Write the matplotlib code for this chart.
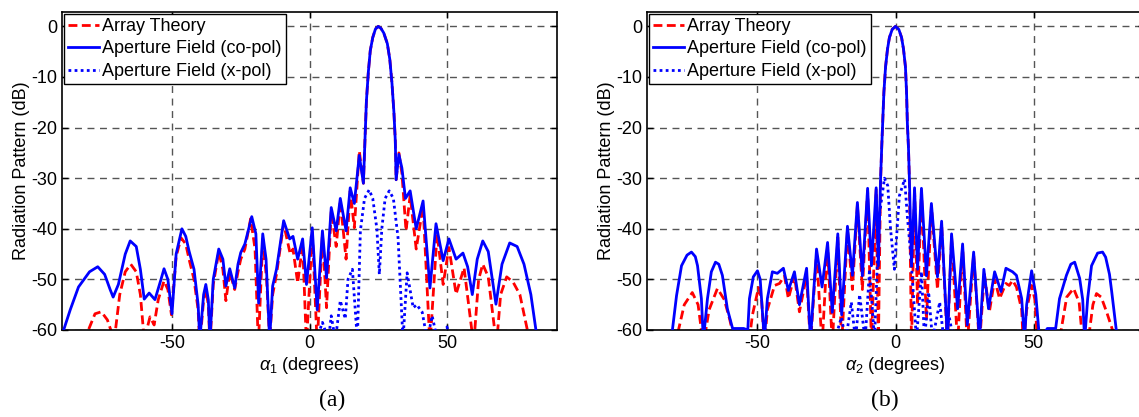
import matplotlib
matplotlib.use("Agg")
import matplotlib.pyplot as plt

plt.rcParams['font.family'] = ['Liberation Sans', 'DejaVu Sans']
plt.rcParams['axes.unicode_minus'] = False
plt.rcParams['mathtext.fontset'] = 'custom'
plt.rcParams['mathtext.rm'] = 'Liberation Sans'
plt.rcParams['mathtext.it'] = 'Liberation Sans:italic'

# ---- panel (a): alpha_1 cut ----
a_co_x = [-90, -87, -84, -80, -77, -74.5, -72.5, -71.4, -69.5, -67, -65.2, -63, -61.5, -60.1,
          -58.3, -56.2, -54, -52.9, -51.5, -50, -48.5, -46.4, -45, -43.8, -42, -40.5, -39.9,
          -38.5, -37.7, -36.8, -36.2, -35, -33, -31.5, -30.4, -29, -27.2, -26, -25, -23.5,
          -21, -19.5, -18.5, -17, -15.8, -14.5, -13.4, -12, -9.4, -7.2, -6, -4.3, -2.5, -1.1,
          1.0, 2.8, 4.7, 6.2, 7.9, 9.7, 11.2, 13.3, 14.8, 16.3, 18.1, 19.6, 20.2, 20.7, 21.4,
          22.1, 23, 24, 25, 26, 27, 28.3, 29.2, 30, 30.7, 31.2, 31.5, 32.5, 33.6, 34.9, 36.6,
          38.8, 41.3, 43.8, 46, 48.6, 50.7, 53.3, 55.8, 57.5, 59.2, 61, 63, 65, 67.8, 70, 72.8,
          75.5, 78, 80.5, 82.6]
a_co_y = [-61, -56, -51.5, -48.5, -47.5, -49, -52, -53.5, -51, -45, -42.4, -43.5, -48, -53.9,
          -52.7, -54, -50, -47.9, -50, -56.8, -45, -40, -41.5, -44.4, -48, -55, -62,
          -53, -51, -54, -62, -50, -44, -46, -51.3, -47.9, -51.7, -47, -44.7, -43,
          -37.6, -41, -54.7, -41, -46, -62, -51.3, -48, -38.4, -42, -41.5, -46, -42, -51,
          -39.8, -56, -40.4, -49.7, -35.8, -40.4, -34, -40.4, -31.9, -35, -25.5, -31, -22, -14.7, -9,
          -4.8, -2.2, -0.5, 0, -0.4, -1.3, -3.4, -6.5, -11.3, -17, -22.6, -30.3, -25.3, -28, -34, -32.5,
          -40, -34.5, -51.7, -39, -46.3, -42, -46, -44.8, -47.5, -53, -46, -42.4, -44.5, -54.9, -47, -42.8,
          -43.5, -47, -53, -61]

a_th_x = [-82, -80.4, -78, -75.7, -73.5, -71, -69, -67, -65, -63, -61.5, -60.1, -58, -56.5, -55,
          -52.9, -51.5, -50.2, -48.5, -46.7, -45, -43.8, -42, -40.5, -39.9, -38.5, -37.7, -36.8,
          -36.2, -35, -33, -31.5, -30.4, -29, -27.2, -26, -25, -23.5, -21.4, -19.8, -18.6, -17,
          -15.6, -14.5, -13.4, -12, -9.4, -7, -6, -4.3, -2.5, -1.1, 1, 2.8, 4.7, 6.2, 7.9, 9.7,
          11.2, 13.3, 14.8, 16.3, 18.1, 19.6, 20.2, 20.7, 21.4, 22.1, 23, 24, 25, 26, 27, 28.3,
          29.2, 30, 30.7, 31.2, 31.5, 32.5, 33.6, 35.1, 36.6, 38.8, 41.3, 43.8, 46.4, 48.6, 50.7,
          53.3, 56.2, 59.7, 61.5, 63, 65, 68, 69.5, 71.7, 74, 76.5, 80]
a_th_y = [-65, -60, -56.8, -56.4, -58, -62, -53, -48.5, -47, -48.5, -53, -62, -57.4, -59, -54,
          -50.3, -52, -57, -45.5, -41.8, -43, -46, -50, -56, -63, -54, -52, -55,
          -63, -51, -44.6, -48, -54.2, -48.5, -52, -48.5, -46, -44, -38, -44, -63, -42,
          -50, -62, -53, -49, -39, -45, -44, -50.7, -43, -63, -40.4, -63, -41, -55.6, -36.5, -43.5,
          -34.5, -46, -32.5, -39.8, -24.6, -31, -22, -14.7, -9, -4.8, -2.2, -0.5, 0, -0.4, -1.3, -3.4,
          -6.5, -11.3, -17, -22.6, -30.3, -25, -29, -40.4, -33.4, -44, -35.5, -63, -41, -51, -43.7,
          -52.9, -47.7, -63, -50, -47, -49.5, -63, -53, -49.5, -50.5, -53, -62]

a_x_x = [2.5, 4.7, 6.9, 7.9, 9.4, 11.2, 13, 14, 15.6, 17.4, 18.5, 20, 21.7, 23, 24.5, 25.4, 26.3,
         27.5, 29, 30.5, 32.2, 34, 35.5, 37.7, 39, 41, 42.8, 44.6, 46.5, 48.5, 50, 51]
a_x_y = [-62, -58.5, -62, -57.2, -62, -54.2, -57.8, -50, -48, -62, -40.4, -34, -32.3, -34, -40, -49, -40,
         -34, -32.5, -34, -41.8, -62, -48.7, -55.6, -55, -56.5, -62, -57.2, -62, -62, -59.4, -62]

# ---- panel (b): alpha_2 cut ----
b_co_x = [-81.5, -80.8, -79.3, -77.5, -75.5, -73.9, -72.5, -71.7, -70.3, -69.6, -68.1, -66.7,
          -65.2, -64, -62.7, -60.9, -59, -55, -53.5, -52.9, -51.5, -50, -49, -47.5, -46.4, -44.6,
          -42.8, -40.6, -38.8, -36.6, -34.8, -32.2, -30.8, -28.6, -26.6, -24.6, -22.9, -20.9,
          -19.5, -17.4, -15.6, -13.8, -12, -10.1, -8.7, -7, -6.2, -5.4, -5, -4.7, -4.2, -3.6,
          -2.9, -2.2, -1.2, 0, 1.2, 2.2, 2.9, 3.6, 4, 4.3, 4.7, 5, 5.8, 6.9, 8, 9.4, 11.2, 13,
          15.2, 16.7, 18.8, 20.3, 22.5, 24.3, 26, 28.3, 30.4, 32, 33.7, 35.9, 38.2, 40, 42.4, 43.8,
          45.7, 46.7, 47.5, 49.3, 50.8, 52.2, 55, 58, 59.4, 61.9, 63.5, 64.9, 66.7, 67.8, 68.5,
          69.6, 71, 73.2, 75, 76.1, 77.5, 78.3, 80.4]
b_co_y = [-62, -60, -53.2, -47.3, -45.2, -44.6, -45.5, -47.3, -53.8, -62, -53.8, -48.5,
          -46.6, -47, -49.2, -55.8, -59.7, -59.7, -60, -53.8, -49.5, -48.3, -50, -62, -53.8, -48.5,
          -48.8, -47.8, -52.2, -48.5, -55, -47.8, -62, -44, -51.5, -42.7, -56.5, -41,
          -57, -39.5, -49.2, -34.8, -49.3, -32, -47.3, -31.9, -47.3, -30, -24, -19.8, -13, -8,
          -4.5, -2.2, -0.6, 0, -0.6, -2.2, -4.5, -8, -13, -19.2, -24, -29.6, -47.3, -31.9, -48, -32, -49.3, -35,
          -49.5, -38.5, -62, -41, -55.8, -43, -59, -44.6, -62, -48, -55.8, -48.5, -52.4, -47.8, -48.5, -49.2,
          -53.8, -62, -55, -48.3, -53, -62, -59.7, -59.7, -53.8, -49.2, -47, -46.6, -49.8, -54, -62,
          -53.8, -47.3, -44.8, -44.6, -45.6, -49, -52.4, -62]

b_th_x = [-80, -78.6, -76.5, -73.6, -71.5, -69.6, -67.5, -64.5, -62, -60, -58, -52.5, -51.8,
          -49.6, -48.5, -47.5, -46.4, -43.8, -42, -40.2, -38.8, -36.6, -34.8, -32.2, -30.8,
          -28.6, -26.6, -24.6, -22.9, -20.9, -19.5, -17.4, -15.6, -13.8, -12, -10.1, -8.7, -7,
          -6.2, -5.4, -5, -4.7, -4.2, -3.6, -2.9, -2.2, -1.2, 0, 1.2, 2.2, 2.9, 3.6, 4, 4.3, 4.7,
          5, 5.8, 6.9, 8, 9.4, 11.2, 13, 15.2, 16.7, 18.8, 20.3, 22.5, 24.3, 26, 28.3, 30.4, 32.2,
          34, 35.9, 37.7, 40, 41.2, 42.4, 43.8, 45.7, 46.3, 47.5, 49.3, 50.5, 51.5, 59, 60, 62,
          64.5, 66.5, 67.9, 70.3, 71.5, 72.8, 74.5, 76.5, 78.6, 79.5]
b_th_y = [-63, -60, -55, -52.6, -55, -63, -56, -51.8, -54, -58, -63, -60, -57,
          -51.6, -54, -63, -56, -51.2, -50.8, -49.3, -53.8, -49.3, -56.4, -49.3, -63,
          -44.8, -63, -43.4, -63, -41.7, -63, -40.2, -52, -35.3, -52, -32.5, -63, -32.3,
          -63, -30.5, -24, -19.8, -13, -8, -4.5, -2.2, -0.6, 0, -0.6, -2.2, -4.5, -8, -13, -19.2, -24,
          -30, -63, -32.3, -55, -32.5, -58, -35.5, -52, -39, -63, -41.5, -63, -43.5, -63, -45, -63, -49,
          -56.4, -50, -53.8, -50.8, -51.2, -50.2, -51.5, -56, -63, -56, -51.2, -54, -63, -63, -60, -53.5,
          -51.8, -54.5, -63, -60, -55, -52.8, -53.5, -56.5, -60, -63]

b_x_x = [-22, -19.6, -18, -16, -14.5, -13, -11, -9.4, -7.6, -6, -4, -2.8, -1.8, -0.4, 1.4, 3.3,
         4.3, 5.5, 7.6, 9.4, 10.5, 12, 13.4, 16, 17.5, 19.5, 21]
b_x_y = [-62, -57.5, -62, -54.5, -62, -53, -62, -48, -62, -38, -30, -31.5, -40, -48, -33.5, -30.2,
         -37.6, -45, -62, -48.5, -62, -52.5, -62, -54.5, -62, -57.5, -62]

fig = plt.figure(figsize=(11.39, 4.17), dpi=100)
ax_a = fig.add_axes([62 / 1139, 1 - 330 / 417, 495 / 1139, 318.3 / 417])
ax_b = fig.add_axes([647 / 1139, 1 - 330 / 417, 497 / 1139, 318.3 / 417])

panels = [
    (ax_a, a_th_x, a_th_y, a_co_x, a_co_y, a_x_x, a_x_y, r'$\alpha_1$ (degrees)'),
    (ax_b, b_th_x, b_th_y, b_co_x, b_co_y, b_x_x, b_x_y, r'$\alpha_2$ (degrees)'),
]

fs = 13
for ax, tx, ty, cx, cy, xx, xy, xlab in panels:
    ax.plot(tx, ty, color='#ff0000', ls=(0, (3.2, 1.6)), lw=2.0, label='Array Theory', zorder=2)
    ax.plot(cx, cy, color='#0000ff', ls='-', lw=2.0, label='Aperture Field (co-pol)', zorder=3)
    ax.plot(xx, xy, color='#0000ff', ls=(0, (1, 1.2)), lw=2.0, label='Aperture Field (x-pol)', zorder=3)
    ax.set_xlim(-90, 90)
    ax.set_ylim(-60, 2.9)
    ax.set_xticks([-50, 0, 50])
    ax.set_yticks([0, -10, -20, -30, -40, -50, -60])
    ax.grid(True, color='#555555', ls=(0, (5, 4)), lw=1.0)
    ax.tick_params(direction='in', top=True, right=True, labelsize=fs, length=4, width=1)
    for s in ax.spines.values():
        s.set_linewidth(1.2)
    ax.set_xlabel(xlab, fontsize=fs, labelpad=2)
    ax.set_ylabel('Radiation Pattern (dB)', fontsize=fs, labelpad=1)
    leg = ax.legend(loc='upper left', fontsize=fs, fancybox=False, edgecolor='black',
                    framealpha=1, borderaxespad=0.1, handlelength=1.7, handletextpad=0.15,
                    labelspacing=0.3, borderpad=0.25)
    leg.get_frame().set_linewidth(1.0)

fig.text(332 / 1139, 1 - 400 / 417, '(a)', family='Liberation Serif', fontsize=17,
         ha='center', va='center')
fig.text(885 / 1139, 1 - 400 / 417, '(b)', family='Liberation Serif', fontsize=17,
         ha='center', va='center')

fig.savefig('out.png', dpi=100)
plt.close(fig)
